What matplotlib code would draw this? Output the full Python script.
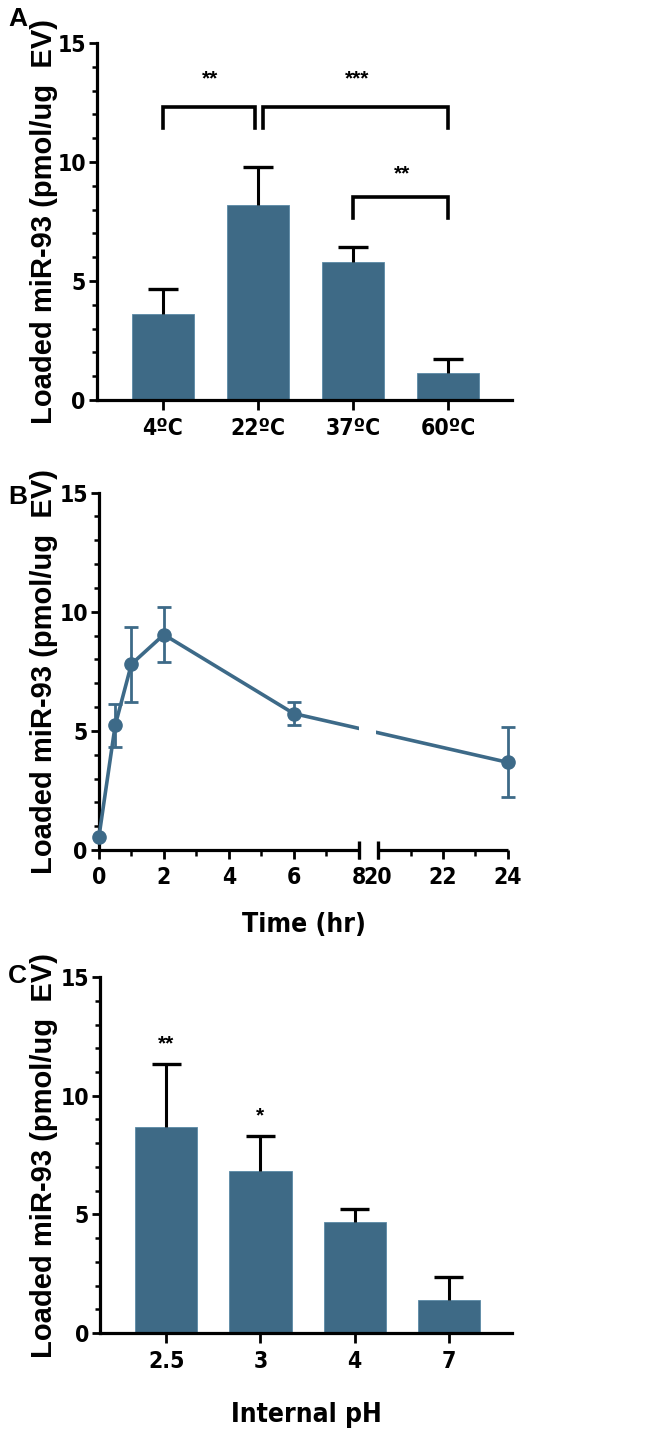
import numpy as np
import matplotlib
matplotlib.use('Agg')
import matplotlib.pyplot as plt
from matplotlib import font_manager
from matplotlib.ticker import MultipleLocator, FixedLocator

# ---- data ----
temp_labels = ['4ºC', '22ºC', '37ºC', '60ºC']
temp_mean = [3.6, 8.2, 5.8, 1.13]
temp_err = [1.05, 1.6, 0.63, 0.6]

time_hr = [0, 0.5, 1, 2, 6, 24]
time_mean = [0.56, 5.23, 7.8, 9.04, 5.73, 3.68]
time_err = [0.0, 0.9, 1.57, 1.15, 0.5, 1.47]

ph_labels = ['2.5', '3', '4', '7']
ph_mean = [8.69, 6.84, 4.68, 1.39]
ph_err = [2.66, 1.47, 0.55, 0.97]
ph_stars = ['**', '*', '', '']

# brackets for panel A: (left, right, top, leg bottom, label, label x, label y)
brackets = [(0, 0.97, 12.3, 11.45, '**', 0.5, 13.5),
            (1.05, 3, 12.3, 11.45, '***', 2.04, 13.5),
            (2, 3, 8.52, 7.63, '**', 2.52, 9.5)]

BLUE = '#3e6a86'
LBLUE = '#3d6a88'
YLABEL = 'Loaded miR-93 (pmol/ug  EV)'
plt.rcParams['font.family'] = ['Liberation Sans', 'DejaVu Sans']

# pick a condensed face for the tick labels if one is installed
fonts = font_manager.fontManager.ttflist
names = {f.name for f in fonts}
if 'Liberation Sans Narrow' in names:
    NARROW = dict(family=['Liberation Sans Narrow', 'DejaVu Sans'], stretch='normal')
    TICK_FS = 17.5
elif any(f.name == 'DejaVu Sans' and f.stretch == 'condensed' for f in fonts):
    NARROW = dict(family=['DejaVu Sans'], stretch='condensed')
    TICK_FS = 16.5
else:
    NARROW = dict(family=['Liberation Sans', 'DejaVu Sans'], stretch='normal')
    TICK_FS = 15

fig = plt.figure(figsize=(6.64, 14.36), dpi=100)


def style_axes(ax, label_x):
    for s in ['top', 'right']:
        ax.spines[s].set_visible(False)
    for s in ['left', 'bottom']:
        ax.spines[s].set_linewidth(2.3)
    ax.set_ylim(0, 15)
    ax.yaxis.set_major_locator(MultipleLocator(5))
    ax.yaxis.set_minor_locator(MultipleLocator(1))
    ax.tick_params(axis='y', which='major', length=6, width=2, labelsize=TICK_FS, pad=2)
    ax.tick_params(axis='y', which='minor', length=3.5, width=1.8)
    ax.tick_params(axis='x', which='major', length=7.5, width=2, labelsize=TICK_FS, pad=5)
    for lab in ax.get_yticklabels() + ax.get_xticklabels():
        lab.set_family(NARROW['family'])
        lab.set_fontstretch(NARROW['stretch'])
        lab.set_fontweight('bold')
    ax.set_ylabel(YLABEL, fontsize=21, fontweight='bold')
    ax.yaxis.set_label_coords(label_x, 0.5)


def bar_panel(ax, labels, means, errs, xlim):
    x = np.arange(len(labels))
    ax.bar(x, means, width=0.66, color=BLUE, edgecolor='#5a8aa6', linewidth=0.6, zorder=2)
    top = np.array(means) + np.array(errs)
    ax.vlines(x, means, top, color='black', lw=2.2, zorder=3)
    ax.hlines(top, x - 0.155, x + 0.155, color='black', lw=2.4, zorder=3)
    ax.set_xlim(*xlim)
    ax.set_xticks(x)
    ax.set_xticklabels(labels)
    return x


# ---- panel A ----
axA = fig.add_axes([0.146, 0.7214, 0.625, 0.2486])
bar_panel(axA, temp_labels, temp_mean, temp_err, (-0.695, 3.674))
style_axes(axA, -0.094)
for x0, x1, yt, yb, lab, lx, ly in brackets:
    axA.plot([x0, x0, x1, x1], [yb, yt, yt, yb], color='black', lw=2.6,
             solid_joinstyle='miter', zorder=3)
    axA.text(lx, ly, lab, ha='center', va='center', fontsize=15, fontweight='bold')

# ---- panel B (broken x axis 8 -> 20) ----
G = 0.6


def fwd(x):
    x = np.asarray(x, float)
    return np.where(x <= 8, x, np.where(x >= 20, x - 12 + G, 8 + (x - 8) * G / 12))


def inv(v):
    v = np.asarray(v, float)
    return np.where(v <= 8, v, np.where(v >= 8 + G, v + 12 - G, 8 + (v - 8) * 12 / G))


axB = fig.add_axes([0.149, 0.408, 0.616, 0.249])
axB.set_xscale('function', functions=(fwd, inv))
axB.set_xlim(0, 24)
axB.plot(time_hr, time_mean, '-', color=LBLUE, lw=2.6, zorder=3, clip_on=False)
axB.plot(time_hr, time_mean, 'o', color=LBLUE, ms=9.5, zorder=4, clip_on=False)
mask = np.array(time_err) > 0
axB.errorbar(np.array(time_hr)[mask], np.array(time_mean)[mask],
             yerr=np.array(time_err)[mask], fmt='none', ecolor=LBLUE,
             elinewidth=2.0, capsize=5, capthick=2.0, zorder=4, clip_on=False)
axB.axvspan(8.3, 19.0, color='white', zorder=3.5, lw=0)
axB.spines['bottom'].set_visible(False)
axB.plot([0, 8], [0, 0], color='black', lw=2.3, clip_on=False, zorder=5,
         solid_capstyle='butt')
axB.plot([20, 24], [0, 0], color='black', lw=2.3, clip_on=False, zorder=5,
         solid_capstyle='butt')
axB.plot([8, 20], [0, 0], '|', color='black', ms=13, mew=2.4, clip_on=False, zorder=5)
axB.xaxis.set_major_locator(FixedLocator([0, 2, 4, 6, 8, 20, 22, 24]))
axB.xaxis.set_minor_locator(FixedLocator([1, 3, 5, 7, 21, 23]))
axB.tick_params(axis='x', which='minor', length=4, width=1.8)
style_axes(axB, -0.100)
axB.tick_params(axis='x', which='major', length=6.5)
axB.set_xlabel('Time (hr)', fontsize=19, fontweight='bold',
               family=NARROW['family'], fontstretch=NARROW['stretch'])
axB.xaxis.set_label_coords(0.5, -0.173)

# ---- panel C ----
axC = fig.add_axes([0.151, 0.0717, 0.620, 0.2479])
xc = bar_panel(axC, ph_labels, ph_mean, ph_err, (-0.70, 3.67))
style_axes(axC, -0.102)
for xi, m, e, s in zip(xc, ph_mean, ph_err, ph_stars):
    if s:
        axC.text(xi, m + e + 0.45, s, ha='center', va='bottom', fontsize=15,
                 fontweight='bold')
axC.set_xlabel('Internal pH', fontsize=19, fontweight='bold',
               family=NARROW['family'], fontstretch=NARROW['stretch'])
axC.xaxis.set_label_coords(0.5, -0.194)

# panel letters
for lab, y in [('A', 0.987), ('B', 0.654), ('C', 0.320)]:
    fig.text(0.012, y, lab, fontsize=19, fontweight='bold', va='center', ha='left')

fig.savefig('out.png', dpi=100)
